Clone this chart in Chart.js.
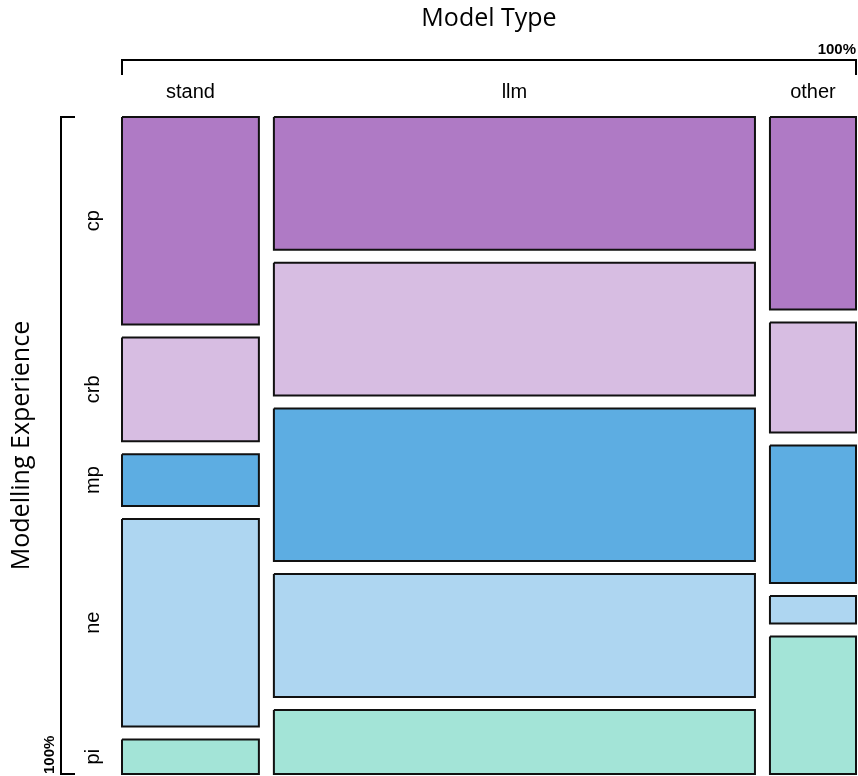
<!DOCTYPE html>
<html>
<head>
<meta charset="utf-8">
<script src="https://cdn.jsdelivr.net/npm/chart.js@4/dist/chart.umd.min.js"></script>
<style>
  html, body { margin: 0; padding: 0; background: #fff; }
  #wrap { width: 858px; height: 776px; }
</style>
</head>
<body>
<div id="wrap"><canvas id="mosaico" width="858" height="776"></canvas></div>
<script>
// categorias
const modelTypes = ['stand', 'llm', 'other'];
const experience = ['cp', 'crb', 'mp', 'ne', 'pi'];

// conteos por tipo de modelo (orden: cp, crb, mp, ne, pi)
const standCounts = [12, 6, 3, 12, 2];
const llmCounts = [27, 27, 31, 25, 13];
const otherCounts = [7, 4, 5, 1, 5];

const colores = ['#AF7AC5', '#D7BDE2', '#5DADE2', '#AED6F1', '#A3E4D7'];

const columnas = [standCounts, llmCounts, otherCounts];
const total = columnas.reduce((s, c) => s + c.reduce((a, b) => a + b, 0), 0);
const gapX = total * 15 / 704;   // separacion entre columnas (unidades de conteo)
const gapY = 13 / 605;           // separacion entre filas (proporcion)
const maxX = total + gapX * (columnas.length - 1);
const maxY = 1 + gapY * (experience.length - 1);

// construir rectangulos
let datasets = [];
let centrosX = [];
let centrosY = [];
let x0 = 0;
columnas.forEach((col, ci) => {
    let n = col.reduce((a, b) => a + b, 0);
    let x1 = x0 + n;
    centrosX.push((x0 + x1) / 2);
    let y0 = 0;
    col.forEach((v, ri) => {
        let y1 = y0 + v / n;
        if (ci === 0) centrosY.push((y0 + y1) / 2);
        datasets.push({
            label: modelTypes[ci] + ' / ' + experience[ri],
            data: [
                { x: x0, y: y0 }, { x: x1, y: y0 },
                { x: x1, y: y1 }, { x: x0, y: y1 }, { x: x0, y: y0 }
            ],
            showLine: true,
            fill: 'shape',
            backgroundColor: colores[ri],
            borderColor: '#111',
            borderWidth: 2,
            borderJoinStyle: 'miter',
            pointRadius: 0,
            tension: 0,
            clip: false
        });
        y0 = y1 + gapY;
    });
    x0 = x1 + gapX;
});

// etiquetas, corchetes y titulos
const decoracion = {
    id: 'decoracion',
    afterDraw(chart) {
        const ctx = chart.ctx;
        const xs = chart.scales.x, ys = chart.scales.y;
        const left = xs.getPixelForValue(0), right = xs.getPixelForValue(maxX);
        const top = ys.getPixelForValue(0), bottom = ys.getPixelForValue(maxY);
        ctx.save();
        ctx.fillStyle = '#000';
        ctx.strokeStyle = '#000';
        ctx.lineWidth = 2;

        // corchete superior
        ctx.beginPath();
        ctx.moveTo(left, 75); ctx.lineTo(left, 60);
        ctx.lineTo(right, 60); ctx.lineTo(right, 75);
        ctx.stroke();
        // corchete izquierdo
        ctx.beginPath();
        ctx.moveTo(75, top); ctx.lineTo(61, top);
        ctx.lineTo(61, bottom); ctx.lineTo(75, bottom);
        ctx.stroke();

        ctx.font = 'bold 15px "Liberation Sans"';
        ctx.textAlign = 'right';
        ctx.textBaseline = 'alphabetic';
        ctx.fillText('100%', right, 54);
        ctx.save();
        ctx.translate(54, bottom);
        ctx.rotate(-Math.PI / 2);
        ctx.textAlign = 'left';
        ctx.fillText('100%', 0, 0);
        ctx.restore();

        ctx.font = '20px "Liberation Sans"';
        ctx.textAlign = 'center';
        ctx.textBaseline = 'middle';
        modelTypes.forEach((m, i) => {
            ctx.fillText(m, xs.getPixelForValue(centrosX[i]), 92);
        });
        experience.forEach((e, i) => {
            ctx.save();
            ctx.translate(93, ys.getPixelForValue(centrosY[i]));
            ctx.rotate(-Math.PI / 2);
            ctx.fillText(e, 0, 0);
            ctx.restore();
        });

        ctx.font = '25px "Open Sans"';
        ctx.fillText('Model Type', (left + right) / 2, 19);
        ctx.save();
        ctx.translate(22, (top + bottom) / 2);
        ctx.rotate(-Math.PI / 2);
        ctx.fillText('Modelling Experience', 0, 0);
        ctx.restore();
        ctx.restore();
    }
};

new Chart(document.getElementById('mosaico'), {
    type: 'scatter',
    data: { datasets: datasets },
    options: {
        responsive: false,
        animation: false,
        layout: { padding: { left: 122, top: 117, right: 2, bottom: 2 } },
        plugins: { legend: { display: false }, tooltip: { enabled: false } },
        scales: {
            x: { type: 'linear', display: false, min: 0, max: maxX },
            y: { type: 'linear', display: false, min: 0, max: maxY, reverse: true }
        }
    },
    plugins: [decoracion]
});
</script>
</body>
</html>
